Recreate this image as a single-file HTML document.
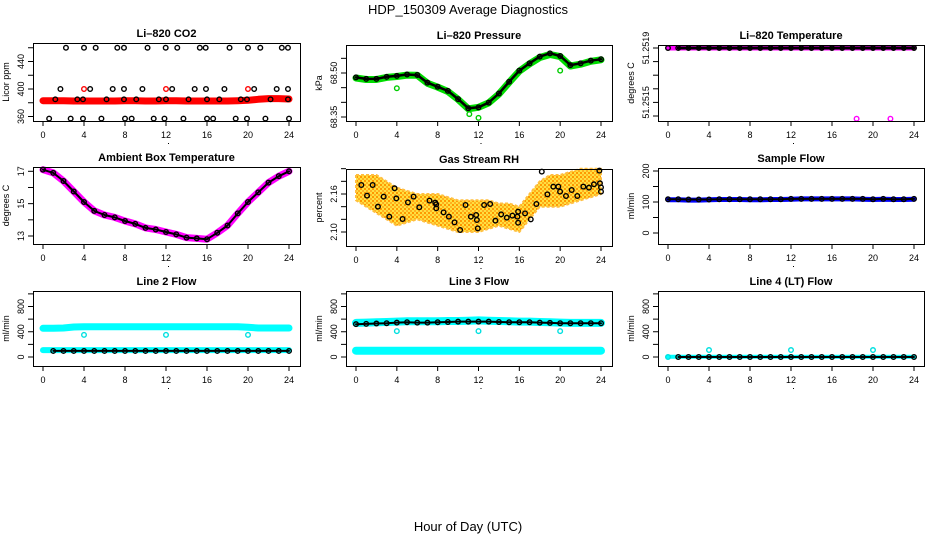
<!DOCTYPE html>
<html><head><meta charset="utf-8"><style>
body{margin:0;background:#fff;}
svg{display:block;font-family:"Liberation Sans",sans-serif;}
</style></head><body>
<svg id="chart" width="936" height="540" viewBox="0 0 936 540">
<defs>
<pattern id="rhpat" width="4" height="4" patternUnits="userSpaceOnUse">
<rect width="4" height="4" fill="#ffe040"/>
<rect x="0" y="0" width="2" height="2" fill="#ff9900"/>
<rect x="2" y="2" width="2" height="2" fill="#ffb020"/>
</pattern>
</defs>
<text x="468" y="14" text-anchor="middle" font-size="13">HDP_150309  Average Diagnostics</text>
<text x="468" y="531" text-anchor="middle" font-size="13">Hour of Day (UTC)</text>
</svg>
<script>
// ---- data ----
const hours = [0,1,2,3,4,5,6,7,8,9,10,11,12,13,14,15,16,17,18,19,20,21,22,23,24];
const xTicks = [0,4,8,12,16,20,24];

const co2Red = [383,383,383,382.5,382.5,382.5,382.5,382.5,383,383,382.5,382.5,383,383,382.5,382.5,382.5,382.5,382.5,383,383.5,385,386,386,385.5];
const co2BlackHours = [2.24,4.0,5.14,7.25,7.9,10.2,11.97,13.1,15.3,15.87,18.2,20.0,21.2,23.3,23.9,
 1.7,4.6,6.8,7.9,9.7,12.6,14.8,15.9,17.7,20.6,22.8,23.9,
 1.2,3.35,3.9,6.2,7.9,9.1,11.3,12,14.2,16,17.2,19.3,19.9,22.2,23.9,
 0.6,2.7,3.9,5.7,8,8.65,10.8,11.85,13.7,16,16.6,18.8,19.9,21.7,24];
const co2BlackValues = [460,460,460,460,460,460,460,460,460,460,460,460,460,460,460,
 400,400,400,400,400,400,400,400,400,400,400,400,
 385,385,385,385,385,385,385,385,385,385,385,385,385,385,385,
 357,357,357,357,357,357,357,357,357,357,357,357,357,357,357];
const co2RedHours = [4.0,12.0,20.0];
const co2RedValues = [400,400,400];
const co2Ticks = [360,400,440];

const presGreen = [68.483,68.478,68.478,68.485,68.488,68.493,68.492,68.465,68.452,68.437,68.41,68.378,68.383,68.398,68.428,68.468,68.506,68.531,68.553,68.563,68.556,68.524,68.53,68.54,68.545];
const presBlack = [68.485,68.48,68.48,68.487,68.49,68.495,68.493,68.467,68.453,68.439,68.411,68.38,68.383,68.399,68.43,68.47,68.508,68.533,68.556,68.567,68.558,68.527,68.533,68.542,68.547];
const presOutHours = [4.0,11.1,12.0,20.0];
const presOutValues = [68.448,68.36,68.347,68.508];
const presTicks = [68.35,68.50];

const tempVals = [51.2519,51.2519,51.2519,51.2519,51.2519,51.2519,51.2519,51.2519,51.2519,51.2519,51.2519,51.2519,51.2519,51.2519,51.2519,51.2519,51.2519,51.2519,51.2519,51.2519,51.2519,51.2519,51.2519,51.2519,51.2519];
const tempOutHours = [18.4,21.7];
const tempOutValues = [51.25138,51.25138];
const tempTicks = [51.2515,51.2519];
const tempTickText = ["51.2515","51.2519"];
const tempMinorTicks = [51.2514,51.2516,51.2517,51.2518];

const ambVals = [17.1,16.9,16.4,15.75,15.1,14.55,14.3,14.15,13.93,13.75,13.5,13.4,13.25,13.1,12.9,12.85,12.8,13.2,13.65,14.4,15.1,15.7,16.3,16.7,17.0];
const ambTicks = [13,15,17];

const rhHours = [0.52,1.08,1.63,2.15,2.71,3.26,3.78,3.95,4.56,5.09,5.64,6.2,7.2,7.76,7.86,7.86,8.58,9.1,9.65,10.2,10.73,11.25,11.77,11.84,11.93,12.55,13.14,13.66,14.22,14.77,15.32,15.81,15.88,15.88,16.56,17.12,17.67,18.2,18.75,19.33,19.82,19.99,20.57,21.13,21.68,22.27,22.82,23.31,23.84,23.9,24,24];
const rhValues = [2.1742,2.1574,2.1742,2.14,2.1558,2.1242,2.169,2.153,2.1205,2.1468,2.1558,2.139,2.1495,2.1463,2.1437,2.1374,2.131,2.1242,2.1152,2.1031,2.1426,2.1242,2.1268,2.1189,2.1058,2.1426,2.1442,2.1179,2.1279,2.1226,2.1258,2.1242,2.1321,2.1147,2.1295,2.12,2.1442,2.1953,2.1595,2.1716,2.1716,2.1637,2.1568,2.1663,2.1568,2.1716,2.17,2.1753,2.1969,2.1769,2.1705,2.1637];
const rhLow = [2.15,2.14,2.13,2.12,2.11,2.115,2.12,2.115,2.11,2.105,2.10,2.10,2.10,2.105,2.11,2.105,2.10,2.12,2.14,2.14,2.14,2.145,2.15,2.155,2.16];
const rhHigh = [2.19,2.19,2.19,2.18,2.17,2.165,2.16,2.16,2.16,2.155,2.15,2.15,2.15,2.15,2.145,2.145,2.14,2.16,2.18,2.19,2.19,2.195,2.20,2.20,2.20];
const rhTicks = [2.10,2.16];
const rhMinorTicks = [2.12,2.14,2.18,2.20];

const sampleBlue = [107,107,106,106,107,108,108,108,107,107,108,108,109,110,110,110,110,110,110,109,108,109,108,108,109];
const sampleBlack = [109,109,108,108,108,109,109,109,109,109,109,109,110,110,110,110,110,110,110,110,109,110,109,109,110];
const sampleTicks = [0,100,200];

const line2CyanHigh = [455,455,460,475,480,480,480,480,480,480,480,480,480,480,480,480,480,480,480,480,470,460,460,460,460];
const line2CyanLow = [110,110,110,110,110,110,110,110,110,110,110,110,110,110,110,110,110,110,110,110,110,110,110,110,110];
const line2Black = [96,96,96,96,96,96,96,96,96,96,96,96,96,96,96,96,96,96,96,96,96,96,96,96,96];
const line2OutHours = [4,12,20];
const line2OutValues = [350,350,350];
const line3CyanHigh = [540,545,550,555,560,565,565,565,565,570,570,575,580,575,570,565,560,560,555,550,545,540,540,540,540];
const line3CyanLow = [100,100,100,100,100,100,100,100,100,100,100,100,100,100,100,100,100,100,100,100,100,100,100,100,100];
const line3Black = [520,525,530,535,545,550,545,545,550,555,560,560,560,560,555,550,550,550,545,540,535,535,535,535,535];
const line3OutHours = [4,12,20];
const line3OutValues = [410,410,410];
const line4Cyan = [5,5,5,5,5,5,5,5,5,5,5,5,5,5,5,5,5,5,5,5,5,5,5,5,5];
const line4Black = [0,0,0,0,0,0,0,0,0,0,0,0,0,0,0,0,0,0,0,0,0,0,0,0,0];
const line4OutHours = [0,4,12,20];
const line4OutValues = [0,110,110,110];
const flowTicks = [0,400,800];

// ---- drawing ----
const svg = document.getElementById('chart');
const NS = 'http://www.w3.org/2000/svg';
function mk(tag, attrs, parent){
  const e = document.createElementNS(NS, tag);
  for (const k in attrs) e.setAttribute(k, attrs[k]);
  (parent||svg).appendChild(e);
  return e;
}
function makePanel(name, title, ylab, bx0, bx1, by0, by1, xp0, xp1, va, pa, vb, pb){
  const g = mk('g', {});
  
  
  const p = {g, bx0, bx1, by0, by1,
    x: h => xp0 + (xp1 - xp0) * h / 24,
    y: v => pa + (v - va) * (pb - pa) / (vb - va)};
  const t = mk('text', {x:(bx0+bx1)/2, y:by0-6, 'text-anchor':'middle', 'font-size':'11', 'font-weight':'bold'}, g);
  t.textContent = title;
  
  
  const yl = mk('text', {transform:`translate(${bx0-24},${(by0+by1)/2}) rotate(-90)`, 'text-anchor':'middle', 'font-size':'9'}, g);
  yl.textContent = ylab;
  
  
  xTicks.forEach(h => {
    const px = p.x(h);
    mk('line', {x1:px, x2:px, y1:by1, y2:by1+5, stroke:'#000', 'stroke-width':1}, g);
    const lb = mk('text', {x:px, y:by1+17, 'text-anchor':'middle', 'font-size':'9'}, g);
    lb.textContent = h;
    
    
  });
  mk('line', {x1:p.x(0), x2:p.x(24), y1:by1+0.5, y2:by1+0.5, stroke:'#000'}, g);
  mk('rect', {x:(p.x(12)+2), y:by1+22, width:1, height:1, fill:'#000'}, g);
  return p;
}
function yTicks(p, vals, labels, minor){
  (minor||[]).forEach(v => {
    const py = p.y(v);
    mk('line', {x1:p.bx0-5, x2:p.bx0, y1:py, y2:py, stroke:'#000'}, p.g);
  });
  vals.forEach((v,i) => {
    const py = p.y(v);
    mk('line', {x1:p.bx0-5, x2:p.bx0, y1:py, y2:py, stroke:'#000'}, p.g);
    const t = mk('text', {transform:`translate(${p.bx0-9},${py}) rotate(-90)`, 'text-anchor':'middle', 'font-size':'9'}, p.g);
    t.textContent = labels ? labels[i] : v;
    
    
  });
}
function box(p){
  const r = mk('rect', {x:p.bx0+0.5, y:p.by0+0.5, width:p.bx1-p.bx0, height:p.by1-p.by0, fill:'none', stroke:'#000', 'stroke-width':1}, p.g);
  
  
}
function band(p, xs, ys, color, w, nm){
  const d = xs.map((h,i) => (i?'L':'M') + p.x(h).toFixed(1) + ',' + p.y(ys[i]).toFixed(1)).join(' ');
  const e = mk('path', {d, fill:'none', stroke:color, 'stroke-width':w, 'stroke-linejoin':'round', 'stroke-linecap':'round'}, p.g);
  
  
}
function pts(p, xs, ys, color, nm, r){
  xs.forEach((h,i) => {
    const c = mk('circle', {cx:p.x(h), cy:p.y(ys[i]), r:r||2.3, fill:'none', stroke:color, 'stroke-width':1.4}, p.g);
    
    
  });
}
function area(p, xs, lo, hi, color, nm){
  let d = xs.map((h,i) => (i?'L':'M') + p.x(h).toFixed(1) + ',' + p.y(hi[i]).toFixed(1)).join(' ');
  for (let i = xs.length-1; i >= 0; i--) d += ' L' + p.x(xs[i]).toFixed(1) + ',' + p.y(lo[i]).toFixed(1);
  const e = mk('path', {d: d+' Z', fill:color, stroke:'#ffc040', 'stroke-width':2, 'stroke-dasharray':'3 2', 'stroke-linejoin':'round'}, p.g);
  
  
}

// Li-820 CO2
let p = makePanel('panel-co2', 'Li\u2013820 CO2', 'Licor ppm', 33, 300, 43, 121, 43, 289, 400, 89, 360, 116.5);
yTicks(p, co2Ticks, null, [380,420,460]);
band(p, hours, co2Red, '#ff0000', 7, 'co2-band');
pts(p, co2BlackHours, co2BlackValues, '#000', 'co2-point');
pts(p, co2RedHours, co2RedValues, '#ff0000', 'co2-red-point');
box(p);

// Li-820 Pressure
p = makePanel('panel-pressure', 'Li\u2013820 Pressure', 'kPa', 346, 612, 45, 121, 356, 601, 68.50, 73, 68.35, 117);
yTicks(p, presTicks, ['68.35','68.50'], [68.40,68.45,68.55]);
band(p, hours, presGreen, '#00dd00', 7, 'pressure-band');
band(p, hours, presBlack, '#000', 2.5, 'pressure-black-line');
pts(p, hours, presBlack, '#000', 'pressure-point');
pts(p, presOutHours, presOutValues, '#00cc00', 'pressure-outlier');
box(p);

// Li-820 Temperature
p = makePanel('panel-temperature', 'Li\u2013820 Temperature', 'degrees C', 658, 924, 45, 121, 668, 914, 51.2519, 48, 51.2515, 102.4);
yTicks(p, tempTicks, tempTickText, tempMinorTicks);
band(p, hours, tempVals, '#ff00ff', 5, 'temperature-band');
band(p, hours.slice(1), tempVals.slice(1), '#000', 3, 'temperature-black-line');
pts(p, hours, tempVals, '#000', 'temperature-point');
pts(p, tempOutHours, tempOutValues, '#ff00ff', 'temperature-outlier');
box(p);

// Ambient Box Temperature
p = makePanel('panel-ambient', 'Ambient Box Temperature', 'degrees C', 33, 300, 167, 244, 43, 289, 17, 171.3, 13, 236);
yTicks(p, ambTicks, null, [14,16]);
band(p, hours, ambVals, '#ff00ff', 7, 'ambient-band');
band(p, hours, ambVals, '#000', 2, 'ambient-black-line');
pts(p, hours, ambVals, '#000', 'ambient-point');
box(p);

// Gas Stream RH
p = makePanel('panel-rh', 'Gas Stream RH', 'percent', 346, 612, 169, 246, 356, 601, 2.16, 194, 2.10, 232);
yTicks(p, rhTicks, ['2.10','2.16'], rhMinorTicks);
area(p, hours, rhLow, rhHigh, 'url(#rhpat)', 'rh-scatter-band');
pts(p, rhHours, rhValues, '#000', 'rh-point');
box(p);

// Sample Flow
p = makePanel('panel-sample-flow', 'Sample Flow', 'ml/min', 658, 924, 168, 244, 668, 914, 200, 171, 0, 233);
yTicks(p, sampleTicks, null, [50,150]);
band(p, hours, sampleBlue, '#0000ff', 5, 'sample-flow-band');
band(p, hours, sampleBlack, '#000', 2, 'sample-flow-black-line');
pts(p, hours, sampleBlack, '#000', 'sample-flow-point');
box(p);

// Line 2 Flow
p = makePanel('panel-line2', 'Line 2 Flow', 'ml/min', 33, 300, 291, 366, 43, 289, 0, 357, 800, 306.5);
yTicks(p, flowTicks, null, [200,600,1000]);
band(p, hours, line2CyanHigh, '#00ffff', 7, 'line2-high-band');
band(p, hours, line2CyanLow, '#00ffff', 6, 'line2-low-band');
band(p, hours.slice(1), line2Black.slice(1), '#000', 2, 'line2-black-line');
pts(p, hours.slice(1), line2Black.slice(1), '#000', 'line2-point');
pts(p, line2OutHours, line2OutValues, '#00e0e0', 'line2-outlier');
box(p);

// Line 3 Flow
p = makePanel('panel-line3', 'Line 3 Flow', 'ml/min', 346, 612, 291, 366, 356, 601, 0, 357, 800, 306.5);
yTicks(p, flowTicks, null, [200,600,1000]);
band(p, hours, line3CyanHigh, '#00ffff', 8, 'line3-high-band');
band(p, hours, line3CyanLow, '#00ffff', 8, 'line3-low-band');
band(p, hours, line3Black, '#000', 2, 'line3-black-line');
pts(p, hours, line3Black, '#000', 'line3-point');
pts(p, line3OutHours, line3OutValues, '#00e0e0', 'line3-outlier');
box(p);

// Line 4 (LT) Flow
p = makePanel('panel-line4', 'Line 4 (LT) Flow', 'ml/min', 658, 924, 291, 366, 668, 914, 0, 357, 800, 306.5);
yTicks(p, flowTicks, null, [200,600,1000]);
band(p, hours, line4Cyan, '#00ffff', 4, 'line4-band');
band(p, hours.slice(1), line4Black.slice(1), '#000', 2, 'line4-black-line');
pts(p, hours.slice(1), line4Black.slice(1), '#000', 'line4-point');
pts(p, line4OutHours, line4OutValues, '#00e0e0', 'line4-outlier');
box(p);
</script>
</body></html>
